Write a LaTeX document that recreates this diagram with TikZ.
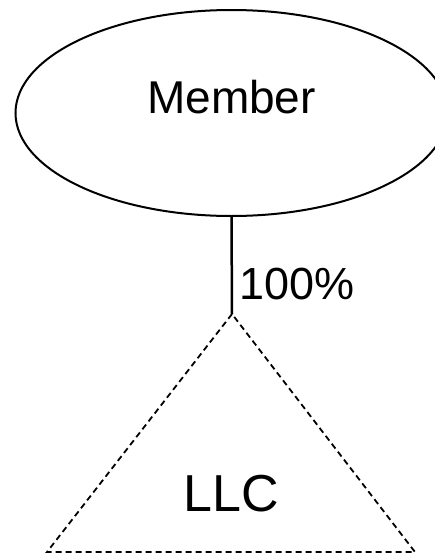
\documentclass[tikz,border=0pt]{standalone}
\usepackage{fontspec}
\setmainfont{Liberation Sans}
\usetikzlibrary{shapes.geometric}
\tikzset{
  entity/.style={ellipse, draw, line width=2pt, minimum width=432pt, minimum height=206pt, inner sep=0pt},
  bigtext/.style={font=\fontsize{46}{50}\selectfont, inner sep=0pt},
  pcttext/.style={font=\fontsize{45}{50}\selectfont, inner sep=0pt},
  llctext/.style={font=\fontsize{52}{56}\selectfont, inner sep=0pt},
  link/.style={line width=2.5pt},
  dashedtri/.style={line width=1.8pt, dash pattern=on 6pt off 4pt, line join=miter}
}
\begin{document}
\begin{tikzpicture}[x=1pt,y=-1pt]
\useasboundingbox (0,0) rectangle (435,555);
\clip (0,0) rectangle (435,555);
\node[entity, label={[bigtext, yshift=16pt]center:Member}] (member) at (231.5,113) {};
\coordinate (apex) at (232,314);
\coordinate (bl) at (47,552);
\coordinate (br) at (415,552);
\draw[link] (member.south) -- (apex);
\node[pcttext] (pct) at (297,284) {100\%};
\draw[dashedtri] (apex) -- (bl) -- (br) -- cycle;
\node[llctext] (llc) at (231,494) {LLC};
\end{tikzpicture}
\end{document}
